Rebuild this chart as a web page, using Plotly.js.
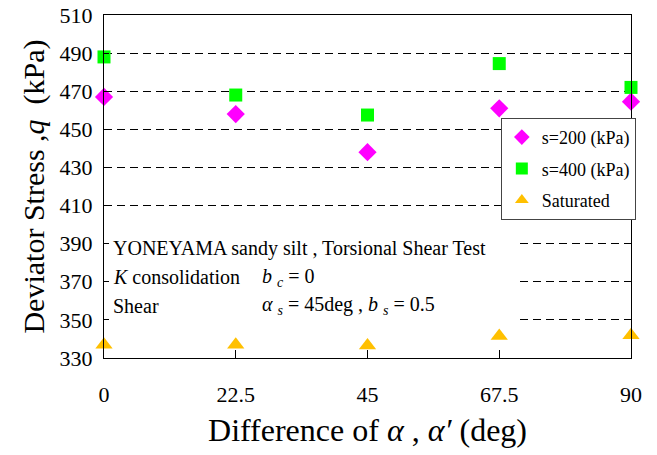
<!DOCTYPE html>
<html><head><meta charset="utf-8">
<script src="https://cdn.plot.ly/plotly-3.0.1.min.js"></script>
<style>body{margin:0;padding:0;background:#fff}#chart{width:657px;height:455px}</style>
</head><body><div id="chart"></div>
<script>
const angles = [0, 22.5, 45, 67.5, 90];
const tickLabels = ['0', '22.5', '45', '67.5', '90'];
const s200 = [467, 458, 438, 461, 464.5];
const s400 = [488, 468, 457.5, 484.5, 472];
const saturated = [337, 337, 336.5, 341.5, 342];
const yTicks = [330, 350, 370, 390, 410, 430, 450, 470, 490, 510];

const FF = '"Liberation Serif", "Times New Roman", serif';
function f(size) { return {family: FF, size: size, color: '#000'}; }
const traces = [
  {x: angles, y: s200, name: 's=200 (kPa)', legendgroup: 'a', mode: 'markers', type: 'scatter', cliponaxis: false,
   marker: {symbol: 'diamond', size: 14, color: '#FF00FF'}},
  {x: angles, y: s400, name: 's=400 (kPa)', legendgroup: 'b', mode: 'markers', type: 'scatter', cliponaxis: false,
   marker: {symbol: 'square', size: 13, color: '#00FF00'}},
  {x: angles, y: saturated, name: 'Saturated', legendgroup: 'c', mode: 'markers', type: 'scatter', cliponaxis: false,
   marker: {symbol: 'triangle-up', size: 15, color: '#FFC000'}}
];
const layout = {
  width: 657, height: 455,
  margin: {l: 104, r: 26, t: 15, b: 97},
  paper_bgcolor: '#fff', plot_bgcolor: '#fff',
  font: f(17),
  showlegend: true,
  legend: {x: 0.753, y: 0.70, xanchor: 'left', yanchor: 'top', bgcolor: '#fff',
    bordercolor: '#444', borderwidth: 1, font: f(18), tracegroupgap: 5, traceorder: 'grouped',
    itemsizing: 'constant', itemwidth: 30},
  xaxis: {range: [0, 90], tickvals: angles, ticktext: tickLabels, ticks: 'inside', ticklen: 8,
    tickcolor: '#000', showline: true, linecolor: '#000', linewidth: 1, mirror: true,
    showgrid: false, zeroline: false, tickfont: f(22), ticklabelstandoff: 17,
    title: {text: 'Difference of <i>α</i> , <i>α′</i> (deg)', font: f(32), standoff: 12}},
  yaxis: {range: [330, 510], tickvals: yTicks, ticks: 'inside', ticklen: 5, tickcolor: '#000',
    showline: true, linecolor: '#000', linewidth: 1, mirror: true, zeroline: false,
    showgrid: true, gridcolor: '#000', griddash: '8px,5px', gridwidth: 1,
    tickfont: f(22), ticklabelstandoff: 6,
    title: {text: 'Deviator Stress ,<i>q</i>  (kPa)', font: f(30), standoff: 6}},
  shapes: [
    {type: 'rect', xref: 'x', yref: 'y', x0: 0.2, x1: 70.6, y0: 346.5, y1: 398,
     fillcolor: '#fff', line: {width: 0}, layer: 'between'}
  ],
  annotations: [
    {xref: 'paper', yref: 'y', x: 0.013, y: 387.5, xanchor: 'left', showarrow: false,
     text: 'YONEYAMA sandy silt , Torsional Shear Test', font: f(20)},
    {xref: 'paper', yref: 'y', x: 0.013, y: 372.5, xanchor: 'left', showarrow: false,
     text: '<i>K</i> consolidation', font: f(20)},
    {xref: 'paper', yref: 'y', x: 0.296, y: 372.5, xanchor: 'left', showarrow: false,
     text: '<i>b</i> <sub><i>c</i></sub> = 0', font: f(20)},
    {xref: 'paper', yref: 'y', x: 0.013, y: 357.3, xanchor: 'left', showarrow: false,
     text: 'Shear', font: f(20)},
    {xref: 'paper', yref: 'y', x: 0.296, y: 357.3, xanchor: 'left', showarrow: false,
     text: '<i>α</i> <sub><i>s</i></sub> = 45deg , <i>b</i> <sub><i>s</i></sub> = 0.5', font: f(20)}
  ]
};
Plotly.newPlot('chart', traces, layout, {displayModeBar: false, staticPlot: true});
</script></body></html>
